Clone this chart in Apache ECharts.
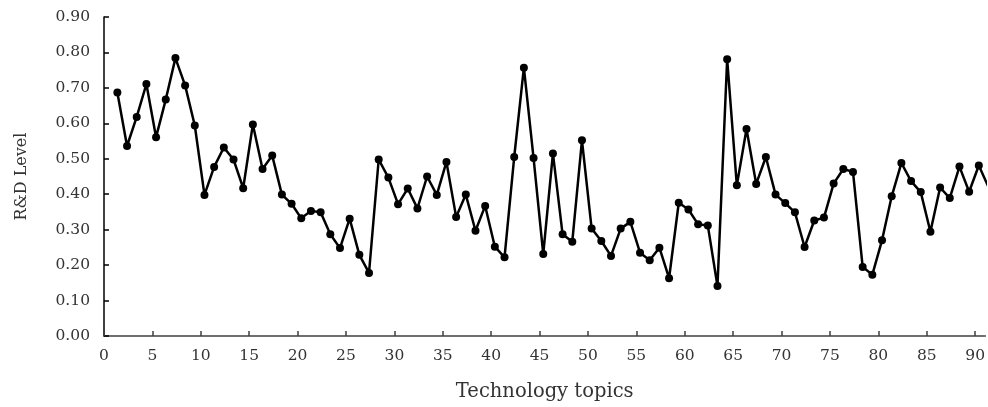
<!DOCTYPE html>
<html>
<head>
<meta charset="utf-8">
<script src="https://cdn.jsdelivr.net/npm/echarts@6/dist/echarts.min.js"></script>
<style>
  html, body { margin: 0; padding: 0; background: #fff; }
  #chart { width: 988px; height: 407px; }
</style>
</head>
<body>
<div id="chart"></div>
<script>
// topic ids 1..91
const topics = [
  1, 2, 3, 4, 5, 6, 7, 8, 9, 10, 11, 12, 13, 14, 15, 16, 17, 18, 19, 20,
  21, 22, 23, 24, 25, 26, 27, 28, 29, 30, 31, 32, 33, 34, 35, 36, 37, 38, 39, 40,
  41, 42, 43, 44, 45, 46, 47, 48, 49, 50, 51, 52, 53, 54, 55, 56, 57, 58, 59, 60,
  61, 62, 63, 64, 65, 66, 67, 68, 69, 70, 71, 72, 73, 74, 75, 76, 77, 78, 79, 80,
  81, 82, 83, 84, 85, 86, 87, 88, 89, 90, 91
];
const rdLevel = [
  0.687, 0.536, 0.618, 0.711, 0.561, 0.667, 0.784, 0.707, 0.594, 0.398,
  0.477, 0.532, 0.498, 0.417, 0.597, 0.471, 0.509, 0.399, 0.373, 0.332,
  0.353, 0.349, 0.287, 0.248, 0.331, 0.229, 0.178, 0.498, 0.447, 0.372,
  0.416, 0.360, 0.450, 0.398, 0.491, 0.336, 0.399, 0.297, 0.367, 0.252,
  0.222, 0.505, 0.757, 0.502, 0.231, 0.515, 0.287, 0.266, 0.552, 0.303,
  0.268, 0.226, 0.303, 0.322, 0.235, 0.214, 0.249, 0.163, 0.376, 0.357,
  0.315, 0.312, 0.141, 0.781, 0.425, 0.584, 0.429, 0.505, 0.399, 0.375,
  0.349, 0.251, 0.326, 0.334, 0.430, 0.471, 0.463, 0.195, 0.173, 0.270,
  0.394, 0.488, 0.437, 0.406, 0.294, 0.419, 0.389, 0.478, 0.407, 0.481,
  0.420
];
const xTicks = [0, 5, 10, 15, 20, 25, 30, 35, 40, 45, 50, 55, 60, 65, 70, 75, 80, 85, 90];

const font = 'DejaVu Serif';
const xMax = 91.06;
const shift = 0.38; // points sit a little right of the integer ticks in the original

const option = {
  animation: false,
  grid: { left: 104, right: 0, top: 17, bottom: 71, containLabel: false },
  xAxis: [{
    type: 'value',
    min: 0,
    max: xMax,
    interval: 5,
    name: 'Technology topics',
    nameLocation: 'middle',
    nameGap: 46,
    nameTextStyle: { fontFamily: font, fontSize: 19.5, color: '#333' },
    axisLine: { lineStyle: { color: '#404040', width: 1.5 } },
    axisTick: { inside: true, length: 5, lineStyle: { color: '#404040', width: 1.5 },
      customValues: xTicks },
    axisLabel: { fontFamily: font, fontSize: 15.5, color: '#333', margin: 12,
      customValues: xTicks },
    splitLine: { show: false }
  }, {
    type: 'value',
    min: -shift,
    max: xMax - shift,
    show: false
  }],
  yAxis: {
    type: 'value',
    min: 0,
    max: 0.9,
    interval: 0.1,
    name: 'R&D Level',
    nameLocation: 'middle',
    nameGap: 74,
    nameTextStyle: { fontFamily: font, fontSize: 16, color: '#333' },
    axisLine: { show: true, lineStyle: { color: '#000', width: 1.5 } },
    axisTick: { show: true, inside: true, length: 5, lineStyle: { color: '#000', width: 1.5 } },
    axisLabel: { fontFamily: font, fontSize: 15.5, color: '#333', margin: 14,
      formatter: v => v.toFixed(2) },
    splitLine: { show: false }
  },
  series: [{
    type: 'line',
    xAxisIndex: 1,
    data: topics.map((t, i) => [t, rdLevel[i]]),
    symbol: 'circle',
    symbolSize: 8,
    clip: true,
    lineStyle: { color: '#000', width: 2.5 },
    itemStyle: { color: '#000' }
  }]
};

const chart = echarts.init(document.getElementById('chart'));
chart.setOption(option);
</script>
</body>
</html>
